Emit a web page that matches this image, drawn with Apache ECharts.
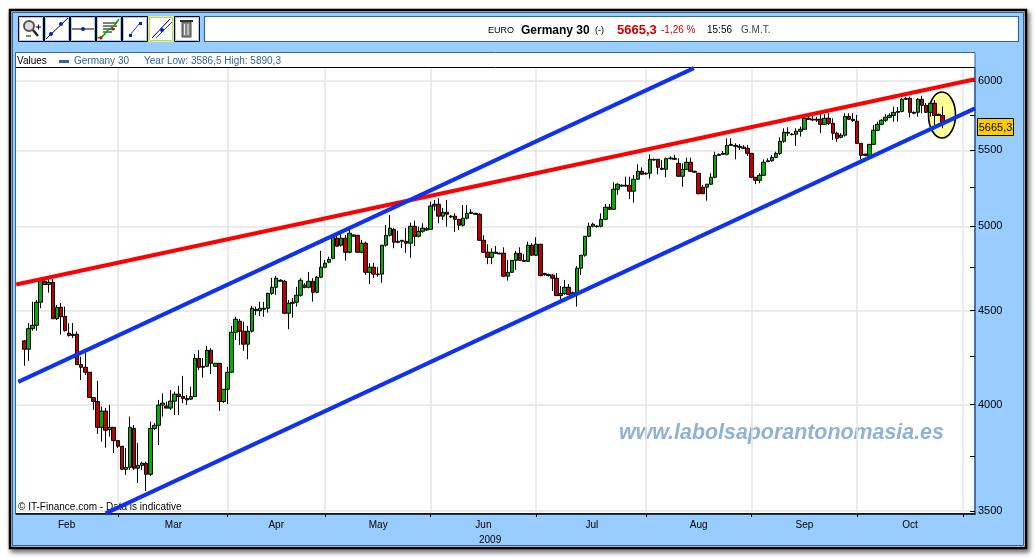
<!DOCTYPE html>
<html><head><meta charset="utf-8">
<style>html,body{margin:0;padding:0;background:#fff}#c{width:1035px;height:559px}</style>
<script src="https://cdn.jsdelivr.net/npm/echarts@6/dist/echarts.min.js"></script></head>
<body><div id="c"></div>
<script>
// Each candle: [open, close, low, high]
const candles = [
[4332,4287,4199,4337],[4287,4399,4225,4430],[4399,4418,4388,4550],[4418,4547,4388,4560],[4547,4676,4513,4686],[4668,4650,4646,4688],[4650,4662,4602,4688],[4662,4454,4454,4682],[4454,4518,4447,4531],[4518,4465,4366,4543],
[4467,4388,4383,4522],[4374,4361,4355,4429],[4361,4368,4348,4430],[4368,4205,4205,4383],[4205,4191,4125,4247],[4191,4165,4151,4268],[4165,4035,4035,4165],[4035,4015,3973,4035],[4015,3887,3855,4120],[3887,3967,3818,3990],
[3967,3873,3789,3983],[3877,3887,3842,3998],[3887,3823,3764,3887],[3823,3796,3788,3823],[3796,3688,3685,3796],[3688,3697,3662,3788],[3697,3887,3685,3940],[3882,3693,3685,3898],[3693,3706,3625,3812],[3706,3716,3685,3723],
[3716,3665,3589,3723],[3665,3882,3657,3915],[3882,3897,3874,3907],[3897,3997,3802,4023],[3997,4007,3940,4056],[3992,3982,3982,4015],[3982,4017,3973,4073],[4017,4052,3948,4065],[4052,4040,3948,4094],[4040,4030,4007,4146],
[4030,4023,3998,4048],[4027,4040,4023,4090],[4040,4238,4037,4261],[4238,4191,4177,4283],[4196,4191,4137,4240],[4196,4281,4191,4305],[4281,4212,4156,4292],[4196,4212,4196,4212],[4212,4015,3968,4212],[4015,4077,4007,4077],
[4077,4165,4002,4193],[4165,4379,4160,4414],[4379,4451,4337,4465],[4440,4385,4310,4453],[4385,4314,4279,4438],[4314,4385,4233,4414],[4385,4513,4377,4526],[4507,4499,4475,4522],[4499,4513,4469,4550],[4507,4513,4465,4549],
[4513,4598,4488,4602],[4598,4633,4589,4688],[4633,4686,4589,4700],[4668,4674,4668,4680],[4668,4485,4481,4676],[4485,4541,4396,4560],[4547,4541,4460,4571],[4547,4587,4522,4636],[4587,4674,4579,4686],[4645,4633,4627,4657],
[4633,4668,4627,4723],[4668,4604,4550,4686],[4604,4692,4598,4700],[4692,4751,4686,4849],[4751,4775,4745,4794],[4781,4798,4775,4814],[4804,4933,4798,4937],[4927,4878,4875,4958],[4884,4927,4875,4960],[4927,4841,4790,4947],
[4841,4958,4835,4978],[4947,4939,4939,4950],[4945,4841,4838,4947],[4841,4896,4835,4916],[4896,4721,4705,4906],[4721,4751,4652,4775],[4751,4710,4686,4778],[4711,4707,4694,4753],[4710,4884,4660,4886],[4884,4945,4875,5009],
[4945,4989,4937,5072],[4982,4902,4865,4989],[4908,4902,4896,4974],[4908,4914,4867,4916],[4908,4896,4837,4991],[4896,5001,4808,5024],[5001,4939,4879,5037],[4939,4970,4933,4999],[4970,4989,4961,5020],[4978,4986,4972,4997],
[4982,5130,4978,5158],[5130,5141,5100,5169],[5141,5065,5020,5180],[5065,5090,5041,5117],[5090,5077,4999,5169],[5065,5060,5052,5072],[5065,5045,4967,5083],[5045,5008,4978,5045],[5008,5052,4999,5136],[5052,5083,5045,5136],
[5090,5083,5079,5109],[5083,5077,5077,5086],[5077,4914,4914,5083],[4914,4841,4839,4945],[4841,4810,4769,4890],[4810,4841,4769,4865],[4841,4835,4831,4879],[4835,4831,4828,4838],[4835,4698,4692,4871],[4698,4721,4672,4794],
[4721,4792,4716,4792],[4792,4835,4735,4849],[4835,4792,4788,4871],[4792,4786,4783,4831],[4786,4884,4782,4906],[4884,4823,4818,4896],[4823,4890,4818,4933],[4890,4701,4698,4890],[4713,4707,4701,4718],[4707,4701,4696,4713],
[4704,4686,4611,4711],[4686,4585,4585,4716],[4585,4596,4560,4640],[4596,4633,4589,4676],[4633,4592,4589,4652],[4602,4596,4590,4608],[4600,4745,4522,4759],[4745,4823,4705,4823],[4823,4939,4814,4939],[4939,5001,4933,5024],
[5001,5014,4995,5024],[5003,4999,4993,5007],[5001,5045,4995,5083],[5045,5122,5041,5143],[5122,5109,5104,5143],[5109,5239,5104,5285],[5239,5272,5202,5278],[5260,5265,5255,5270],[5265,5260,5255,5322],[5265,5226,5174,5322],
[5226,5305,5152,5333],[5305,5358,5300,5405],[5358,5338,5333,5385],[5340,5345,5335,5350],[5345,5439,5309,5473],[5439,5434,5430,5444],[5439,5385,5338,5439],[5378,5371,5365,5434],[5371,5443,5318,5452],[5443,5448,5438,5460],
[5446,5439,5435,5470],[5412,5325,5322,5446],[5325,5371,5256,5412],[5371,5419,5367,5450],[5419,5358,5354,5450],[5358,5352,5349,5362],[5345,5210,5205,5345],[5252,5210,5206,5267],[5252,5272,5164,5274],[5272,5318,5267,5345],
[5318,5466,5311,5491],[5466,5473,5462,5478],[5473,5480,5470,5496],[5473,5535,5466,5584],[5535,5542,5531,5584],[5535,5528,5439,5549],[5528,5522,5503,5544],[5522,5515,5510,5537],[5515,5480,5462,5537],[5480,5318,5311,5480],
[5318,5298,5272,5318],[5298,5331,5278,5345],[5331,5419,5327,5439],[5423,5429,5420,5446],[5429,5452,5423,5468],[5452,5480,5446,5491],[5480,5563,5468,5591],[5563,5627,5553,5655],[5627,5620,5600,5662],[5610,5613,5605,5620],
[5613,5634,5531,5655],[5634,5648,5596,5667],[5648,5726,5643,5726],[5726,5719,5714,5750],[5719,5714,5707,5767],[5719,5714,5700,5736],[5719,5683,5620,5755],[5683,5726,5678,5755],[5726,5690,5678,5762],[5690,5620,5572,5726],
[5620,5584,5560,5631],[5591,5606,5584,5620],[5606,5740,5596,5762],[5740,5719,5714,5762],[5719,5709,5700,5762],[5705,5549,5544,5750],[5549,5466,5439,5549],[5475,5466,5460,5475],[5466,5542,5462,5544],[5542,5641,5537,5678],
[5641,5683,5636,5702],[5683,5712,5678,5719],[5712,5733,5702,5755],[5733,5747,5726,5762],[5747,5769,5702,5810],[5769,5776,5702,5808],[5776,5864,5769,5871],[5871,5864,5860,5884],[5871,5769,5733,5884],[5769,5762,5755,5775],
[5769,5864,5738,5871],[5864,5820,5762,5890],[5820,5769,5765,5837],[5769,5835,5738,5837],[5835,5747,5678,5859],[5755,5747,5742,5760],[5747,5697,5655,5810]
];
const leadingSlots = 2, slotCount = 237;
const monthEdges = [25,52,76,102,128,155,181,207,233];
const monthCentres = [12.4,38.7,64,89.1,115,141.7,168,194,220];
const monthNames = ['Feb','Mar','Apr','May','Jun','Jul','Aug','Sep','Oct'];
const priceLabels = [3500,4000,4500,5000,5500,6000];
const priceMinorTicks = [3750,4250,4750,5250,5750];
const trendRed = [[0,4649],[236,6013]];
const trendUpperBlue = [[0.5,4115],[166.8,6098]];
const trendLowerBlue = [[22,3490],[236,5798]];

const categories = Array.from({length: slotCount}, (_, i) => String(i));
const padded = categories.map((_, i) => candles[i - leadingSlots] || ['-','-','-','-']);

const FONT = '"Liberation Sans", Arial, sans-serif';
const B = '#336699', P = '#99CCFF';
const rect = (x,y,w,h,fill,stroke,lw,z,extra) => Object.assign({type:'rect',shape:{x,y,width:w,height:h},style:{fill:fill||'none',stroke:stroke||'none',lineWidth:lw||0},z:z===undefined?-10:z,silent:true},extra||{});
const line = (x1,y1,x2,y2,stroke,lw,z) => ({type:'line',shape:{x1,y1,x2,y2},style:{stroke,lineWidth:lw||1},z:z===undefined?-5:z,silent:true});
const text = (x,y,t,font,fill,extra,z) => ({type:'text',x,y,style:Object.assign({text:t,font,fill,textVerticalAlign:'middle'},extra||{}),z:z===undefined?-4:z,silent:true});
const dot = (x,y,r,fill) => ({type:'circle',shape:{cx:x,cy:y,r},style:{fill},z:-3,silent:true});

const gfx = [
  rect(10,10,1016,538,'#ffffff','#000000',2.5,-12,{style:{fill:'#fff',stroke:'#000',lineWidth:2.5,shadowBlur:5,shadowColor:'rgba(0,0,0,.55)',shadowOffsetX:2,shadowOffsetY:3}}),
  rect(12.5,12.5,1011,533,P,B,1,-11),
  rect(15.5,52.5,959.5,461,'#ffffff',B,1,-10),
  line(16,67.5,975,67.5,'#000',1),
  rect(204.5,16.5,814,25,'#ffffff',B,1.2,-10)
];
// toolbar buttons
[18,44,70,96,122,148,174].forEach((x,i)=>{
  gfx.push(rect(x+.5,16.5,25,25,'#fff',i===5?'#FFFF00':'#000',1,-9));
  gfx.push(rect(x+1.5,17.5,23,23,'none','#99CCFF',1,-8));
});
gfx.push(
  {type:'circle',shape:{cx:29,cy:26,r:5},style:{fill:'#ddd',stroke:'#555',lineWidth:2},z:-3,silent:true},
  line(33,30,38,36,'#222',2.5,-3), line(36,27,41,27,'#000',1,-3), line(38.5,24.5,38.5,29.5,'#000',1,-3), line(26,36,31,36,'#000',1,-3),
  line(46,39,68,18,'#000',1,-3), dot(51,34,2,'#0022cc'), dot(61,24,2,'#0022cc'),
  line(72,29,94,29,'#000',1,-3), dot(83,29,2,'#0022cc'),
  line(103,23,117,23,'#000',1,-3), line(103,26,117,26,'#000',1,-3), line(103,29,115,29,'#000',1,-3), line(103,32,112,32,'#000',1,-3),
  {type:'polyline',shape:{points:[[98,38],[103,36],[108,30],[114,26],[119,19]]},style:{stroke:'#00aa00',fill:'none',lineWidth:1.5},z:-3,silent:true},
  dot(101,38,1.5,'#cc0000'), dot(113,29,1.5,'#cc0000'),
  line(130,35,140,23,'#2244cc',1,-3), rect(129,34,3,3,'#0022cc',null,0,-3), rect(139,22,3,3,'#0022cc',null,0,-3),
  line(152,38,170,19,'#000',1,-3), line(156,38,172,22,'#2244cc',1,-3), dot(162,30,2,'#0022cc'),
  rect(182,22,9,15,'#888','#444',1,-3), line(180,21,193,21,'#333',2,-3), line(184.5,24,184.5,35,'#eee',1,-2), line(188,24,188,35,'#eee',1,-2),
  text(488,30.5,'EURO',`9px ${FONT}`,'#000'),
  text(521,30.5,'Germany 30',`bold 12px ${FONT}`,'#000'),
  text(595,30.5,'(-)',`9px ${FONT}`,'#000'),
  text(617,30.5,'5665,3',`bold 13px ${FONT}`,'#cc0000'),
  text(661,30.5,'-1,26 %',`10px ${FONT}`,'#cc0000'),
  text(707,30.5,'15:56',`10px ${FONT}`,'#000'),
  text(741,30.5,'G.M.T.',`10px ${FONT}`,'#444'),
  text(17,61,'Values',`10px ${FONT}`,'#000'),
  rect(59,60,10,3,B,null,0,-4),
  text(74,61,'Germany 30',`10px ${FONT}`,B),
  text(144,61,'Year Low: 3586,5 High: 5890,3',`10px ${FONT}`,B),
  text(18,507,'© IT-Finance.com - Data is indicative',`10px ${FONT}`,'#000'),
  text(479,540,'2009',`10px ${FONT}`,'#000'),
  {type:'text',x:619,y:433,style:{text:'www.labolsaporantonomasia.es',font:`italic bold 21.4px ${FONT}`,fill:'#8FB2D6',textVerticalAlign:'middle',shadowBlur:1,shadowColor:'#888',shadowOffsetX:1,shadowOffsetY:1},z:-2,silent:true},
  {type:'ellipse',shape:{cx:942,cy:115,rx:13.5,ry:23},style:{fill:'#FFFF99',stroke:'#000',lineWidth:1.6},z:1,silent:true},
  rect(977.5,118.5,36,17,'#FFCC00','#000',1,5),
  text(995.5,127.5,'5665,3',`11px ${FONT}`,'#000',{textAlign:'center'},6)
);

const chart = echarts.init(document.getElementById('c'), null, {renderer:'canvas'});
const yBase = {type:'log',logBase:10,min:3487,max:6098.6,position:'right',scale:true};
const xBase = {type:'value',min:0,max:236,position:'bottom'};
chart.setOption({
  animation:false,
  backgroundColor:'#ffffff',
  graphic:{elements:gfx},
  grid:{left:16.2,right:60,top:68,bottom:45,containLabel:false},
  xAxis:[
    {type:'category',data:categories,boundaryGap:false,axisLine:{show:false},axisTick:{show:false},axisLabel:{show:false},splitLine:{show:false}},
    Object.assign({},xBase,{axisLine:{show:true,onZero:false,lineStyle:{color:'#000',width:1.5}},
      axisTick:{show:true,inside:false,length:3,customValues:monthEdges,lineStyle:{color:'#000'}},
      axisLabel:{show:false},splitLine:{show:true,lineStyle:{color:'#e4e4e4',width:1.5}}}),
    Object.assign({},xBase,{axisLine:{show:false,onZero:false},axisTick:{show:false},splitLine:{show:false},
      axisLabel:{show:true,margin:6,color:'#000',fontSize:10,fontFamily:FONT,customValues:monthCentres,
        formatter:v=>monthNames[monthCentres.indexOf(v)]||''}})
  ],
  yAxis:[
    Object.assign({},yBase,{axisLine:{show:true,onZero:false,lineStyle:{color:B,width:1.5}},
      axisTick:{show:true,inside:true,length:5,customValues:priceLabels,lineStyle:{color:'#000'}},
      axisLabel:{show:true,inside:false,margin:3,color:'#000',fontSize:11,fontFamily:FONT,customValues:priceLabels,formatter:v=>String(Math.round(v))},
      splitLine:{show:true,lineStyle:{color:'#e4e4e4',width:1.5}}}),
    Object.assign({},yBase,{axisLine:{show:false,onZero:false},axisLabel:{show:false},splitLine:{show:false},
      axisTick:{show:true,inside:true,length:5,customValues:priceMinorTicks,lineStyle:{color:'#000'}}})
  ],
  series:[
    {type:'candlestick',xAxisIndex:0,yAxisIndex:0,data:padded,barWidth:4,z:2,clip:true,
      itemStyle:{color:'#00B000',color0:'#C00000',borderColor:'#000',borderColor0:'#000',borderWidth:1}},
    {type:'line',xAxisIndex:1,yAxisIndex:0,data:trendRed,symbol:'none',z:3,lineStyle:{color:'#FF0000',width:4}},
    {type:'line',xAxisIndex:1,yAxisIndex:0,data:trendUpperBlue,symbol:'none',z:3,lineStyle:{color:'#0F32F0',width:4}},
    {type:'line',xAxisIndex:1,yAxisIndex:0,data:trendLowerBlue,symbol:'none',z:3,lineStyle:{color:'#0F32F0',width:4}}
  ]
});
</script></body></html>
